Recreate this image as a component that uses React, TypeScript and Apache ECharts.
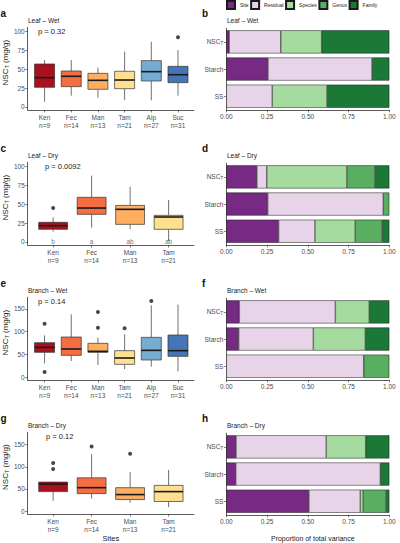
import React, { useEffect, useRef } from 'react';
import * as echarts from 'echarts';

const FONT = '"Liberation Sans", Arial, Helvetica, sans-serif';

// ---------- categories ----------
const sitesWet = ['Ken', 'Fec', 'Man', 'Tam', 'Alp', 'Suc'];
const sitesDry = ['Ken', 'Fec', 'Man', 'Tam'];
const nWet = [9, 14, 13, 21, 27, 31];
const nDry = [9, 14, 13, 21];
const siteColors = ['#A8121F', '#F46D43', '#FDAE61', '#FEE090', '#74ADD1', '#4575B4'];

// ---------- box statistics: [min, Q1, median, Q3, max] ----------
const leafWetBoxes = [
  [7, 25.9, 38.6, 56.6, 61.8],
  [14.9, 26.8, 40.4, 47.4, 61.8],
  [12.3, 23.3, 35.1, 44.3, 51.8],
  [9.2, 24.1, 35.5, 47, 72.8],
  [8.8, 34.2, 46.5, 61, 86],
  [14.9, 32, 42.5, 53.5, 75],
];
const leafWetOutliers = [[5, 91.7]];

const leafDryBoxes = [
  [13.6, 16.7, 21.5, 25.9, 32.5],
  [18.8, 36.4, 44.7, 58.8, 87.3],
  [16.7, 23.2, 43, 48.2, 72.8],
  [1.3, 16.7, 32.9, 35.1, 55.3],
];
const leafDryOutliers = [[0, 44.7]];
const leafDryLetters = ['b', 'a', 'ab', 'ab'];

const branchWetBoxes = [
  [30.2, 54.4, 65.4, 75.7, 91.9],
  [35.3, 47.8, 61.8, 88.2, 138.2],
  [26.5, 54.4, 56.6, 74.3, 86.8],
  [17.6, 27.9, 41.9, 58.1, 94.1],
  [22.8, 37.5, 58.8, 87.5, 158.1],
  [12.5, 45.6, 58.1, 92.6, 159.6],
];
const branchWetOutliers = [[0, 117.6], [0, 11], [2, 143.4], [2, 108.8], [3, 107.4], [4, 167.7]];

const branchDryBoxes = [
  [23.1, 43.9, 61, 65.5, 66],
  [28.3, 39.4, 52.8, 75.1, 128.7],
  [18.6, 26, 37.2, 52.8, 88.5],
  [8.9, 21.6, 43.9, 58, 93],
];
const branchDryOutliers = [[0, 108.6], [0, 95.2], [1, 145.8], [2, 129.5]];

const pValues = ['p = 0.32', 'p = 0.0092', 'p = 0.14', 'p = 0.12'];
const stripTitles = ['Leaf \u2013 Wet', 'Leaf \u2013 Dry', 'Branch \u2013 Wet', 'Branch \u2013 Dry'];

// ---------- variance partition (order: SS, Starch, NSC_T) ----------
const varianceCats = ['SS', 'Starch', 'NSC_T'];
const components = ['Site', 'Residual', 'Species', 'Genus', 'Family'];
const componentColors = ['#762A83', '#E7D4E8', '#A6DBA0', '#5AAE61', '#1B7837'];

const leafWetSite = [0, 0.256, 0.018];
const leafWetResidual = [0.282, 0.638, 0.316];
const leafWetSpecies = [0.336, 0, 0.251];
const leafWetGenus = [0, 0, 0];
const leafWetFamily = [0.382, 0.106, 0.415];

const leafDrySite = [0.321, 0.254, 0.188];
const leafDryResidual = [0.223, 0.709, 0.06];
const leafDrySpecies = [0.247, 0, 0.492];
const leafDryGenus = [0.166, 0.037, 0.172];
const leafDryFamily = [0.043, 0, 0.088];

const branchWetSite = [0, 0.076, 0.08];
const branchWetResidual = [0.843, 0.458, 0.589];
const branchWetSpecies = [0, 0.319, 0.208];
const branchWetGenus = [0.157, 0, 0];
const branchWetFamily = [0, 0.147, 0.123];

const branchDrySite = [0.507, 0.058, 0.06];
const branchDryResidual = [0.315, 0.887, 0.553];
const branchDrySpecies = [0.018, 0, 0.242];
const branchDryGenus = [0.14, 0, 0];
const branchDryFamily = [0.02, 0.055, 0.145];

const yTicksLeaf = [0, 25, 50, 75, 100];
const yTicksBranch = [0, 50, 100, 150];

// ---------- layout ----------
const ROW = [0, 135, 270, 405];
const AXIS = '#333333';
const TICKTXT = '#4D4D4D';

const boxPanels = [
  { sites: sitesWet, n: nWet, boxes: leafWetBoxes, outliers: leafWetOutliers, letters: null as null | string[], ymin: -3.95, ymax: 104.9, ticks: yTicksLeaf, xmin: -0.63, xmax: 5.6, pLeft: 38 },
  { sites: sitesDry, n: nDry, boxes: leafDryBoxes, outliers: leafDryOutliers, letters: leafDryLetters, ymin: -3.95, ymax: 104.9, ticks: yTicksLeaf, xmin: -0.66, xmax: 3.66, pLeft: 45 },
  { sites: sitesWet, n: nWet, boxes: branchWetBoxes, outliers: branchWetOutliers, letters: null, ymin: -6.6, ymax: 175.8, ticks: yTicksBranch, xmin: -0.63, xmax: 5.6, pLeft: 38 },
  { sites: sitesDry, n: nDry, boxes: branchDryBoxes, outliers: branchDryOutliers, letters: null, ymin: -6.7, ymax: 178, ticks: yTicksBranch, xmin: -0.66, xmax: 3.66, pLeft: 46 },
];

const barPanels = [
  [leafWetSite, leafWetResidual, leafWetSpecies, leafWetGenus, leafWetFamily],
  [leafDrySite, leafDryResidual, leafDrySpecies, leafDryGenus, leafDryFamily],
  [branchWetSite, branchWetResidual, branchWetSpecies, branchWetGenus, branchWetFamily],
  [branchDrySite, branchDryResidual, branchDrySpecies, branchDryGenus, branchDryFamily],
];

const BOX_WIDTH = 0.75;

function buildOption() {
  const grid: any[] = [];
  const xAxis: any[] = [];
  const yAxis: any[] = [];
  const series: any[] = [];
  const title: any[] = [];
  const lineStyle = { color: AXIS, width: 0.8 };
  const tickStyle = { color: AXIS, width: 0.6 };
  const letterNames = ['a', 'b', 'c', 'd', 'e', 'f', 'g', 'h'];

  for (let r = 0; r < 4; r++) {
    const off = ROW[r];
    const bp = boxPanels[r];
    const gi = 2 * r;
    grid.push({ left: 27.3, top: 27.3 + off, width: 166.7, height: 82.7 });
    grid.push({ left: 226.3, top: 28.3 + off, width: 163, height: 81.5 });

    const idx = bp.sites.map((_, i) => i);
    xAxis.push({
      type: 'value', gridIndex: gi, min: bp.xmin, max: bp.xmax,
      axisLine: { show: true, onZero: false, lineStyle },
      axisTick: { show: true, customValues: idx, length: 2.5, lineStyle: tickStyle },
      axisLabel: {
        customValues: idx, fontSize: 6.5, lineHeight: 8, margin: 3, color: TICKTXT,
        formatter: (v: number) => { const i = Math.round(v); return `${bp.sites[i]}\nn=${bp.n[i]}`; },
      },
      splitLine: { show: false },
      name: r === 3 ? 'Sites' : '', nameLocation: 'middle', nameGap: 20,
      nameTextStyle: { fontSize: 7.5, color: '#222' },
    });
    yAxis.push({
      type: 'value', gridIndex: gi, min: bp.ymin, max: bp.ymax,
      axisLine: { show: true, onZero: false, lineStyle },
      axisTick: { show: true, customValues: bp.ticks, length: 2.5, lineStyle: tickStyle },
      axisLabel: { customValues: bp.ticks, fontSize: 6.5, margin: 3, color: TICKTXT },
      splitLine: { show: false },
      name: '{a|NSC}{s|T}{a| (mg/g)}', nameLocation: 'middle', nameGap: 16,
      nameTextStyle: {
        color: '#222', padding: [0, 0, 0, 12],
        rich: { a: { fontSize: 8, color: '#222' }, s: { fontSize: 5.5, color: '#222', padding: [4, 0, 0, 0] } },
      },
    });

    // right (variance) axes
    xAxis.push({
      type: 'value', gridIndex: gi + 1, min: 0, max: 1, interval: 0.25,
      axisLine: { show: true, onZero: false, lineStyle },
      axisTick: { show: true, length: 2.5, lineStyle: tickStyle },
      axisLabel: { fontSize: 6.5, margin: 3, color: TICKTXT, formatter: (v: number) => v.toFixed(2) },
      splitLine: { show: false },
      name: r === 3 ? 'Proportion of total variance' : '', nameLocation: 'middle', nameGap: 20,
      nameTextStyle: { fontSize: 7, color: '#222', padding: [0, 0, 0, 10] },
    });
    yAxis.push({
      type: 'category', gridIndex: gi + 1, data: varianceCats,
      axisLine: { show: true, onZero: false, lineStyle },
      axisTick: { show: true, alignWithLabel: true, length: 2.5, lineStyle: tickStyle },
      axisLabel: {
        margin: 3, color: TICKTXT,
        formatter: (v: string) => (v === 'NSC_T' ? '{a|NSC}{s|T}' : `{a|${v}}`),
        rich: { a: { fontSize: 6.5, color: TICKTXT }, s: { fontSize: 4.8, color: TICKTXT, padding: [3, 0, 0, 0] } },
      },
      splitLine: { show: false },
    });

    // boxes
    series.push({
      type: 'custom', xAxisIndex: gi, yAxisIndex: gi, silent: true,
      data: bp.boxes.map((b, i) => [i, ...b]),
      encode: { x: 0, y: [1, 2, 3, 4, 5] },
      renderItem: (params: any, api: any) => {
        const x = api.value(0);
        const lo = api.coord([x, api.value(1)]);
        const q1 = api.coord([x, api.value(2)]);
        const med = api.coord([x, api.value(3)]);
        const q3 = api.coord([x, api.value(4)]);
        const hi = api.coord([x, api.value(5)]);
        const w = api.size([BOX_WIDTH, 0])[0];
        const cx = lo[0];
        return {
          type: 'group',
          children: [
            { type: 'line', shape: { x1: cx, y1: hi[1], x2: cx, y2: q3[1] }, style: { stroke: AXIS, lineWidth: 0.7 } },
            { type: 'line', shape: { x1: cx, y1: q1[1], x2: cx, y2: lo[1] }, style: { stroke: AXIS, lineWidth: 0.7 } },
            { type: 'rect', shape: { x: cx - w / 2, y: q3[1], width: w, height: q1[1] - q3[1] }, style: { fill: siteColors[params.dataIndex], stroke: AXIS, lineWidth: 0.7 } },
            { type: 'line', shape: { x1: cx - w / 2, y1: med[1], x2: cx + w / 2, y2: med[1] }, style: { stroke: '#1A1A1A', lineWidth: 1.6 } },
          ],
        };
      },
    });
    series.push({
      type: 'scatter', xAxisIndex: gi, yAxisIndex: gi, silent: true,
      data: bp.outliers, symbolSize: 4, itemStyle: { color: '#1A1A1A' },
    });
    if (bp.letters) {
      const letters = bp.letters;
      series.push({
        type: 'scatter', xAxisIndex: gi, yAxisIndex: gi, silent: true,
        data: letters.map((_, i) => [i, 0]), symbolSize: 1, itemStyle: { color: 'rgba(0,0,0,0)' },
        label: { show: true, position: 'inside', fontSize: 6.5, color: '#4D4D4D', formatter: (p: any) => letters[p.dataIndex] },
      });
    }

    // variance bars
    barPanels[r].forEach((vals, k) => {
      series.push({
        type: 'bar', name: components[k], stack: 'var' + r,
        xAxisIndex: gi + 1, yAxisIndex: gi + 1, silent: true,
        data: vals.map((v) => (v > 0 ? v : '-')), barWidth: '85%',
        itemStyle: { color: componentColors[k], borderColor: '#1A1A1A', borderWidth: 0.5 },
      });
    });

    // titles
    title.push({ text: letterNames[2 * r], left: 0.5, top: 8 + off, padding: 0, textStyle: { fontSize: 10, fontWeight: 'bold', color: '#111' } });
    title.push({ text: letterNames[2 * r + 1], left: 202, top: 8 + off, padding: 0, textStyle: { fontSize: 10, fontWeight: 'bold', color: '#111' } });
    title.push({ text: stripTitles[r], left: 28, top: 16.5 + off, padding: 0, textStyle: { fontSize: 6.5, fontWeight: 'normal', color: '#222' } });
    title.push({ text: stripTitles[r], left: 227, top: 16.5 + off, padding: 0, textStyle: { fontSize: 6.5, fontWeight: 'normal', color: '#222' } });
    title.push({ text: pValues[r], left: bp.pLeft, top: 27.5 + off, padding: 0, textStyle: { fontSize: 7.5, fontWeight: 'normal', color: '#222' } });
  }

  return {
    animation: false,
    backgroundColor: '#ffffff',
    textStyle: { fontFamily: FONT },
    title,
    legend: {
      data: components, left: 226, top: 0, padding: 0,
      itemWidth: 8, itemHeight: 8, itemGap: 1.5, selectedMode: false, icon: 'rect',
      textStyle: { fontSize: 5, color: '#222', fontFamily: FONT },
    },
    grid,
    xAxis,
    yAxis,
    series,
  };
}

export default function App() {
  const ref = useRef<HTMLDivElement>(null);
  useEffect(() => {
    if (!ref.current) return;
    const chart = echarts.init(ref.current, undefined, { renderer: 'svg' });
    chart.setOption(buildOption() as any);
    return () => chart.dispose();
  }, []);
  return (
    <div
      ref={ref}
      style={{ position: 'absolute', left: 0, top: 0, width: 400, height: 543, background: '#fff' }}
    />
  );
}
